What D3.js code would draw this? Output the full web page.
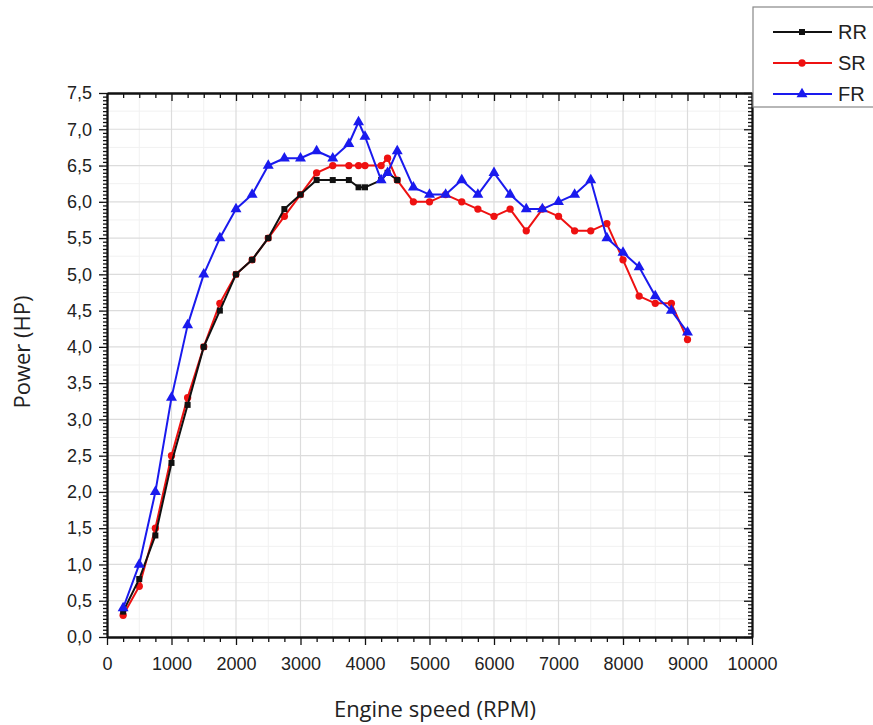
<!DOCTYPE html>
<html>
<head>
<meta charset="utf-8">
<script src="https://cdn.jsdelivr.net/npm/d3@7"></script>
<style>
  body { margin: 0; background: #fff; }
  svg { display: block; }
</style>
</head>
<body>
<script>
// engine speed points (RPM)
const rpmRR = [250, 500, 750, 1000, 1250, 1500, 1750, 2000, 2250, 2500, 2750, 3000, 3250, 3500, 3750, 3900, 4000, 4250, 4350, 4500];
const powerRR = [0.35, 0.8, 1.4, 2.4, 3.2, 4.0, 4.5, 5.0, 5.2, 5.5, 5.9, 6.1, 6.3, 6.3, 6.3, 6.2, 6.2, 6.3, 6.4, 6.3];

const rpmAll = [250, 500, 750, 1000, 1250, 1500, 1750, 2000, 2250, 2500, 2750, 3000, 3250, 3500, 3750, 3900, 4000, 4250, 4350, 4500,
  4750, 5000, 5250, 5500, 5750, 6000, 6250, 6500, 6750, 7000, 7250, 7500, 7750, 8000, 8250, 8500, 8750, 9000];
const powerSR = [0.3, 0.7, 1.5, 2.5, 3.3, 4.0, 4.6, 5.0, 5.2, 5.5, 5.8, 6.1, 6.4, 6.5, 6.5, 6.5, 6.5, 6.5, 6.6, 6.3,
  6.0, 6.0, 6.1, 6.0, 5.9, 5.8, 5.9, 5.6, 5.9, 5.8, 5.6, 5.6, 5.7, 5.2, 4.7, 4.6, 4.6, 4.1];
const powerFR = [0.4, 1.0, 2.0, 3.3, 4.3, 5.0, 5.5, 5.9, 6.1, 6.5, 6.6, 6.6, 6.7, 6.6, 6.8, 7.1, 6.9, 6.3, 6.4, 6.7,
  6.2, 6.1, 6.1, 6.3, 6.1, 6.4, 6.1, 5.9, 5.9, 6.0, 6.1, 6.3, 5.5, 5.3, 5.1, 4.7, 4.5, 4.2];

const seriesNames = ["RR", "SR", "FR"];
const seriesColors = ["#111111", "#ee1111", "#1a1aee"];
const xTicks = [0, 1000, 2000, 3000, 4000, 5000, 6000, 7000, 8000, 9000, 10000];
const yTicks = [0, 0.5, 1, 1.5, 2, 2.5, 3, 3.5, 4, 4.5, 5, 5.5, 6, 6.5, 7, 7.5];

const W = 873, H = 725;
const pLeft = 107, pRight = 752, pTop = 93, pBottom = 637;

const svg = d3.select("body").append("svg")
  .attr("width", W).attr("height", H);

const x = d3.scaleLinear().domain([0, 10000]).range([pLeft, pRight]);
const y = d3.scaleLinear().domain([0, 7.5]).range([pBottom, pTop]);

const fmt = d => d.toFixed(1).replace(".", ",");

// grid
const grid = svg.append("g");
grid.selectAll(".gx").data(d3.range(500, 10000, 1000)).enter().append("line")
  .attr("x1", d => x(d)).attr("x2", d => x(d)).attr("y1", pTop).attr("y2", pBottom)
  .attr("stroke", "#f1f1f1").attr("stroke-width", 1);
grid.selectAll(".gy").data(d3.range(0.25, 7.5, 0.5)).enter().append("line")
  .attr("y1", d => y(d)).attr("y2", d => y(d)).attr("x1", pLeft).attr("x2", pRight)
  .attr("stroke", "#f1f1f1").attr("stroke-width", 1);
grid.selectAll(".mx").data(xTicks.slice(1, -1)).enter().append("line")
  .attr("x1", d => x(d)).attr("x2", d => x(d)).attr("y1", pTop).attr("y2", pBottom)
  .attr("stroke", "#dcdcdc").attr("stroke-width", 1.2);
grid.selectAll(".my").data(yTicks.slice(1, -1)).enter().append("line")
  .attr("y1", d => y(d)).attr("y2", d => y(d)).attr("x1", pLeft).attr("x2", pRight)
  .attr("stroke", "#dcdcdc").attr("stroke-width", 1.2);

// axes
const minorX = d3.range(0, 10001, 250).filter(d => d % 1000 !== 0);
const minorY = d3.range(0, 151, 1).map(d => d / 20).filter(d => Math.round(d * 20) % 10 !== 0);

function styleAxis(g) {
  g.select(".domain").attr("stroke", "#111").attr("stroke-width", 1.8);
  g.selectAll(".tick line").attr("stroke", "#111").attr("stroke-width", 1.3);
}

const tickFont = "'Liberation Sans', Arial, sans-serif";

// bottom
svg.append("g").attr("transform", `translate(0,${pBottom})`)
  .call(d3.axisBottom(x).tickValues(minorX).tickSize(5).tickFormat("").tickSizeOuter(0))
  .call(styleAxis);
const gxb = svg.append("g").attr("transform", `translate(0,${pBottom})`)
  .call(d3.axisBottom(x).tickValues(xTicks).tickSize(8).tickPadding(12).tickFormat(d3.format("d")).tickSizeOuter(0))
  .call(styleAxis);
gxb.selectAll("text").attr("font-family", tickFont).attr("font-size", 18).attr("fill", "#222");

// top
svg.append("g").attr("transform", `translate(0,${pTop})`)
  .call(d3.axisBottom(x).tickValues(minorX).tickSize(5).tickFormat("").tickSizeOuter(0))
  .call(styleAxis);
svg.append("g").attr("transform", `translate(0,${pTop})`)
  .call(d3.axisBottom(x).tickValues(xTicks).tickSize(8).tickFormat("").tickSizeOuter(0))
  .call(styleAxis);

// left
svg.append("g").attr("transform", `translate(${pLeft},0)`)
  .call(d3.axisLeft(y).tickValues(minorY).tickSize(4).tickFormat("").tickSizeOuter(0))
  .call(styleAxis);
const gyl = svg.append("g").attr("transform", `translate(${pLeft},0)`)
  .call(d3.axisLeft(y).tickValues(yTicks).tickSize(8).tickPadding(7).tickFormat(fmt).tickSizeOuter(0))
  .call(styleAxis);
gyl.selectAll("text").attr("font-family", tickFont).attr("font-size", 18).attr("fill", "#222");

// right
svg.append("g").attr("transform", `translate(${pRight},0)`)
  .call(d3.axisRight(y).tickValues(minorY).tickSize(-4).tickFormat("").tickSizeOuter(0))
  .call(styleAxis);
svg.append("g").attr("transform", `translate(${pRight},0)`)
  .call(d3.axisRight(y).tickValues(yTicks).tickSize(-8).tickFormat("").tickSizeOuter(0))
  .call(styleAxis);

// series
const symbols = [d3.symbolSquare, d3.symbolCircle, d3.symbolTriangle];
const symSize = [36, 42, 52];
const series = [
  { name: "SR", idx: 1, xs: rpmAll, ys: powerSR },
  { name: "RR", idx: 0, xs: rpmRR, ys: powerRR },
  { name: "FR", idx: 2, xs: rpmAll, ys: powerFR }
];
const line = d3.line().x(d => x(d[0])).y(d => y(d[1]));

series.forEach(s => {
  const pts = s.xs.map((v, i) => [v, s.ys[i]]);
  const color = seriesColors[s.idx];
  svg.append("path").datum(pts)
    .attr("d", line).attr("fill", "none")
    .attr("stroke", color).attr("stroke-width", 2).attr("stroke-linejoin", "round");
  svg.selectAll(null).data(pts).enter().append("path")
    .attr("transform", d => `translate(${x(d[0])},${y(d[1])})`)
    .attr("d", d3.symbol().type(symbols[s.idx]).size(symSize[s.idx]))
    .attr("fill", color);
});

// axis titles
svg.append("text")
  .attr("x", 435).attr("y", 717)
  .attr("text-anchor", "middle")
  .attr("font-family", "'Open Sans', sans-serif").attr("font-size", 22)
  .attr("fill", "#222")
  .text("Engine speed (RPM)");
svg.append("text")
  .attr("transform", `translate(30,352) rotate(-90)`)
  .attr("text-anchor", "middle")
  .attr("font-family", "'Open Sans', sans-serif").attr("font-size", 22)
  .attr("fill", "#222")
  .text("Power (HP)");

// legend
const lg = svg.append("g");
lg.append("rect").attr("x", 753).attr("y", 7).attr("width", 140).attr("height", 100)
  .attr("fill", "#fff").attr("stroke", "#888").attr("stroke-width", 1.2);
seriesNames.forEach((n, i) => {
  const ly = 32 + i * 31;
  lg.append("line").attr("x1", 773).attr("x2", 832).attr("y1", ly).attr("y2", ly)
    .attr("stroke", seriesColors[i]).attr("stroke-width", 2);
  lg.append("path").attr("transform", `translate(802,${ly})`)
    .attr("d", d3.symbol().type(symbols[i]).size(symSize[i]))
    .attr("fill", seriesColors[i]);
  lg.append("text").attr("x", 838).attr("y", ly + 7)
    .attr("font-family", tickFont).attr("font-size", 20).attr("fill", "#222")
    .text(n);
});
</script>
</body>
</html>
